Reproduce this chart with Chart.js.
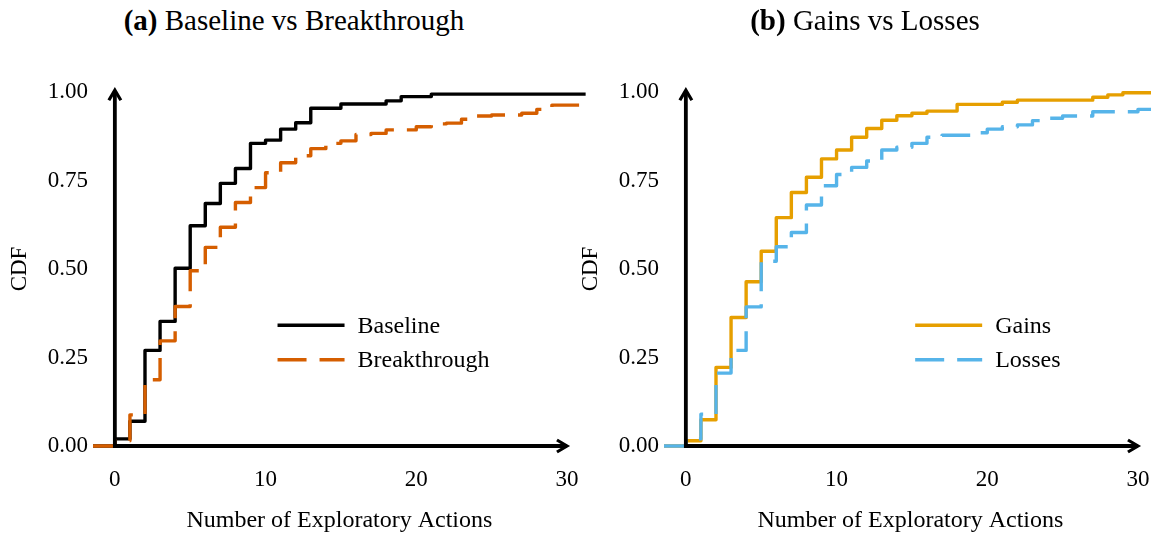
<!DOCTYPE html>
<html>
<head>
<meta charset="utf-8">
<script src="https://cdn.jsdelivr.net/npm/chart.js@4.4.0/dist/chart.umd.min.js"></script>
<style>
html, body { margin: 0; padding: 0; width: 1151px; height: 535px; overflow: hidden; background: #fff; }
.panel { position: absolute; top: 0; width: 588px; height: 535px; }
.panel canvas { position: absolute; left: 0; top: 0; }
.ptitle { position: absolute; left: 0; top: 0; width: 588px; text-align: center;
  font-family: "Liberation Serif", serif; font-size: 29px; line-height: 40px; color: #000; white-space: nowrap; }
</style>
</head>
<body>
<div class="panel" style="left:0px">
  <div class="ptitle"><b>(a)</b> Baseline vs Breakthrough</div>
  <canvas id="c1" width="588" height="535"></canvas>
</div>
<div class="panel" style="left:571px">
  <div class="ptitle"><b>(b)</b> Gains vs Losses</div>
  <canvas id="c2" width="588" height="535"></canvas>
</div>
<script>
// ---------- data ----------
const X_STEPS = [0,1,2,3,4,5,6,7,8,9,10,11,12,13,14,15,16,17,18,19,20,21,22,23,24,25,26,27,28,29,30];
const X_MIN = -1.45;
const X_MAX = 31.25;
const X_TICKS = [0, 10, 20, 30];
const X_TICK_LABELS = ['0', '10', '20', '30'];
const Y_TICKS = [0, 0.25, 0.5, 0.75, 1.0];
const Y_TICK_LABELS = ['0.00', '0.25', '0.50', '0.75', '1.00'];

const BASELINE = [0.020,0.070,0.270,0.352,0.502,0.622,0.685,0.742,0.784,0.855,0.864,0.895,0.913,0.954,0.954,0.966,0.966,0.966,0.975,0.987,0.987,0.994,0.994,0.994,0.994,0.994,0.994,0.994,0.994,0.994,0.994];
const BREAKTHROUGH = [0.015,0.088,0.187,0.297,0.394,0.495,0.561,0.618,0.688,0.730,0.772,0.800,0.820,0.840,0.855,0.862,0.880,0.883,0.893,0.893,0.902,0.910,0.912,0.923,0.932,0.935,0.935,0.940,0.951,0.963,0.963];
const GAINS = [0.015,0.074,0.222,0.363,0.464,0.550,0.645,0.716,0.759,0.811,0.836,0.872,0.897,0.920,0.933,0.940,0.946,0.946,0.965,0.965,0.965,0.971,0.977,0.977,0.977,0.977,0.977,0.985,0.992,0.998,0.998];
const LOSSES = [0.020,0.090,0.206,0.270,0.393,0.522,0.563,0.603,0.681,0.735,0.767,0.787,0.805,0.836,0.844,0.855,0.872,0.878,0.878,0.885,0.895,0.902,0.907,0.919,0.926,0.932,0.932,0.944,0.944,0.944,0.951];

const FONT = "'Liberation Serif', 'Times New Roman', serif";

function stepPoints(values) {
  const pts = [{ x: X_MIN, y: 0 }];
  X_STEPS.forEach((x, i) => pts.push({ x: x, y: values[i] }));
  pts.push({ x: X_MAX, y: values[values.length - 1] });
  return pts;
}

const arrowAxes = {
  id: 'arrowAxes',
  afterDatasetsDraw(chart, args, opts) {
    const ctx = chart.ctx, xs = chart.scales.x, ys = chart.scales.y;
    const x0 = xs.getPixelForValue(0), y0 = ys.getPixelForValue(0);
    const yTop = ys.getPixelForValue(opts.yEnd), xEnd = xs.getPixelForValue(opts.xEnd);
    const w = opts.width, L = opts.headLen, h = opts.headHalf;
    ctx.save();
    ctx.strokeStyle = '#000';
    ctx.lineWidth = w;
    ctx.lineCap = 'butt';
    ctx.beginPath();
    ctx.moveTo(x0, y0 + w / 2); ctx.lineTo(x0, yTop + 1);
    ctx.moveTo(x0 - w / 2, y0); ctx.lineTo(xEnd - 1, y0);
    ctx.stroke();
    ctx.lineWidth = opts.headWidth;
    ctx.lineJoin = 'miter';
    ctx.beginPath();
    ctx.moveTo(x0 - h, yTop + L); ctx.lineTo(x0, yTop); ctx.lineTo(x0 + h, yTop + L);
    ctx.moveTo(xEnd - L, y0 - h); ctx.lineTo(xEnd, y0); ctx.lineTo(xEnd - L, y0 + h);
    ctx.stroke();
    ctx.restore();
  }
};

const innerLegend = {
  id: 'innerLegend',
  afterDraw(chart, args, opts) {
    const ctx = chart.ctx, area = chart.chartArea;
    const items = chart.data.datasets.slice().sort((a, b) => a.legendIndex - b.legendIndex);
    ctx.save();
    ctx.font = opts.fontSize + 'px ' + FONT;
    const maxW = Math.max(...items.map(d => ctx.measureText(d.label).width));
    const textX = area.left + opts.right - maxW;
    const lx1 = textX - opts.gap, lx0 = lx1 - opts.lineLen;
    items.forEach((d, i) => {
      const y = area.top + opts.top + i * opts.rowH;
      ctx.strokeStyle = d.borderColor;
      ctx.lineWidth = d.borderWidth;
      ctx.lineCap = 'butt';
      ctx.setLineDash(d.borderDash || []);
      ctx.beginPath(); ctx.moveTo(lx0, y); ctx.lineTo(lx1, y); ctx.stroke();
      ctx.setLineDash([]);
      ctx.fillStyle = '#000';
      ctx.textBaseline = 'middle';
      ctx.textAlign = 'left';
      ctx.fillText(d.label, textX, y + 1);
    });
    ctx.restore();
  }
};

function makeChart(id, dsDefs) {
  const datasets = dsDefs.map((d, i) => ({
    label: d.label,
    data: stepPoints(d.values),
    borderColor: d.color,
    borderWidth: 3.4,
    borderDash: d.dash,
    stepped: 'before',
    pointRadius: 0,
    fill: false,
    tension: 0,
    borderJoinStyle: 'round',
    borderCapStyle: 'butt',
    order: dsDefs.length - i,
    legendIndex: i
  }));
  return new Chart(document.getElementById(id), {
    type: 'line',
    data: { datasets: datasets },
    plugins: [arrowAxes, innerLegend],
    options: {
      responsive: false,
      animation: false,
      events: [],
      layout: { padding: { top: 74.3, right: 2.2, left: 0, bottom: 0 } },
      plugins: {
        legend: { display: false },
        tooltip: { enabled: false },
        title: { display: false },
        arrowAxes: { xEnd: 30, yEnd: 1.005, width: 3.8, headWidth: 3.2, headLen: 10, headHalf: 6 },
        innerLegend: { right: 396.5, top: 251, rowH: 34.5, gap: 13, lineLen: 67, fontSize: 24 }
      },
      scales: {
        x: {
          type: 'linear',
          min: X_MIN,
          max: X_MAX,
          grid: { display: false, drawTicks: false, tickLength: 0 },
          border: { display: false },
          afterBuildTicks: s => { s.ticks = X_TICKS.map(v => ({ value: v })); },
          afterFit: s => { s.height = 71.3; },
          ticks: {
            padding: 2,
            color: '#000',
            font: { family: FONT, size: 23 },
            maxRotation: 0,
            callback: v => X_TICK_LABELS[X_TICKS.indexOf(v)]
          },
          title: {
            display: true,
            text: 'Number of Exploratory Actions',
            color: '#000',
            font: { family: FONT, size: 24 },
            padding: { top: 0, bottom: 0 }
          }
        },
        y: {
          type: 'linear',
          min: -0.05,
          max: 1.05,
          grid: { display: false, drawTicks: false, tickLength: 0 },
          border: { display: false },
          afterBuildTicks: s => { s.ticks = Y_TICKS.map(v => ({ value: v })); },
          afterFit: s => { s.width = 93; },
          ticks: {
            padding: 5,
            color: '#000',
            font: { family: FONT, size: 23 },
            callback: v => Y_TICK_LABELS[Y_TICKS.indexOf(v)]
          },
          title: {
            display: true,
            text: 'CDF',
            color: '#000',
            font: { family: FONT, size: 23 },
            padding: { top: 6, bottom: 0 }
          }
        }
      }
    }
  });
}

makeChart('c1', [
  { label: 'Baseline', values: BASELINE, color: '#000000', dash: [] },
  { label: 'Breakthrough', values: BREAKTHROUGH, color: '#D55E00', dash: [29, 13] }
]);
makeChart('c2', [
  { label: 'Gains', values: GAINS, color: '#E69F00', dash: [] },
  { label: 'Losses', values: LOSSES, color: '#56B4E9', dash: [29, 13] }
]);
</script>
</body>
</html>
